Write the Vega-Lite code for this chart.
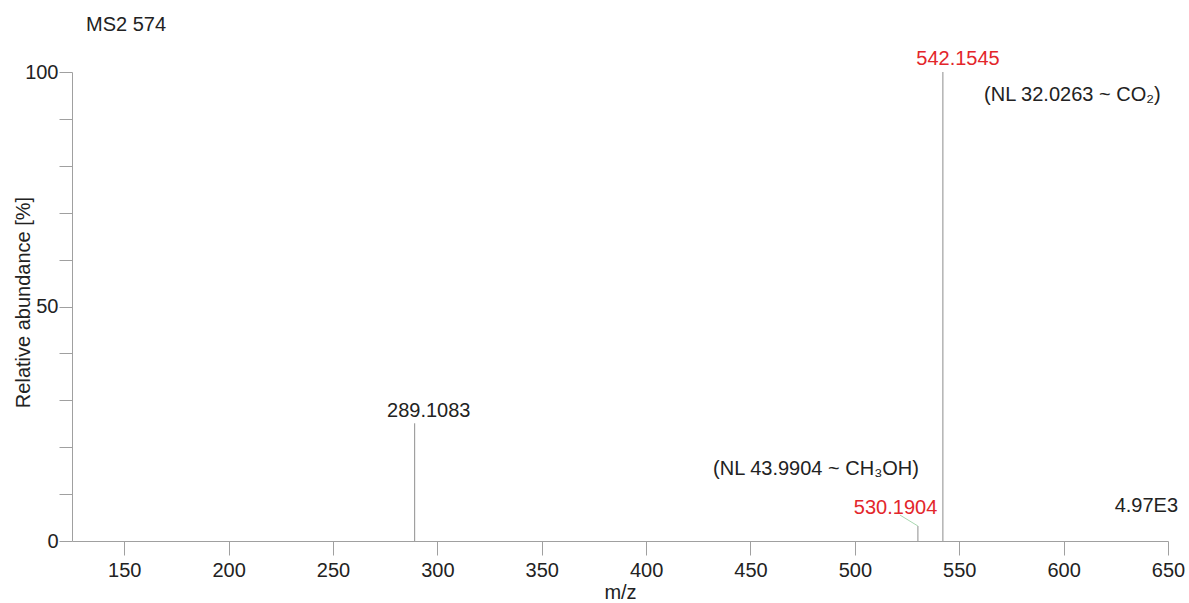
{
  "$schema": "https://vega.github.io/schema/vega-lite/v6.json",
  "autosize": "none",
  "width": 1096,
  "height": 469,
  "padding": {"left": 72, "top": 72, "right": 21, "bottom": 62},
  "background": "white",
  "config": {
    "font": "Liberation Sans",
    "view": {"stroke": null},
    "axis": {
      "grid": false,
      "domainColor": "#a0a0a0",
      "tickColor": "#a0a0a0",
      "labelFont": "Liberation Sans",
      "titleFont": "Liberation Sans",
      "labelFontSize": 20,
      "titleFontSize": 20,
      "labelColor": "#222222",
      "titleColor": "#222222",
      "titleFontWeight": "normal"
    }
  },
  "datasets": {
    "peaks": [
      {"mz": 289.1083, "abundance": 25.1},
      {"mz": 530.1904, "abundance": 3.2},
      {"mz": 542.1545, "abundance": 100}
    ],
    "peakLabels": [
      {"x": 549.4, "y": 101.5, "label": "542.1545", "role": "fragment"},
      {"x": 295.9, "y": 26.4, "label": "289.1083", "role": "peak"},
      {"x": 519.5, "y": 5.76, "label": "530.1904", "role": "fragment"},
      {"x": 481.4, "y": 14.1, "label": "(NL 43.9904 ~ CH₃OH)", "role": "peak"}
    ],
    "leftNotes": [
      {"x": 561.9, "y": 93.9, "label": "(NL 32.0263 ~ CO₂)"},
      {"x": 131.7, "y": 108.8, "label": "MS2 574"}
    ],
    "rightNotes": [
      {"x": 654.8, "y": 6.2, "label": "4.97E3"}
    ],
    "connectors": [
      {"x": 521.6, "y": 5.54, "x2": 530.19, "y2": 3.2}
    ]
  },
  "layer": [
    {
      "data": {"name": "peaks"},
      "mark": {"type": "rule", "color": "#a0a0a0", "strokeWidth": 1.2},
      "encoding": {
        "x": {
          "field": "mz",
          "type": "quantitative",
          "scale": {"domain": [125, 650], "nice": false, "zero": false},
          "axis": {
            "title": "m/z",
            "values": [150, 200, 250, 300, 350, 400, 450, 500, 550, 600, 650],
            "tickSize": 14,
            "labelPadding": 5,
            "titleX": 548,
            "titleY": 57,
            "titleBaseline": "alphabetic",
            "titleAlign": "center",
            "labelFlush": false,
            "labelOverlap": false
          }
        },
        "y": {
          "field": "abundance",
          "type": "quantitative",
          "scale": {"domain": [0, 100], "nice": false},
          "axis": {
            "title": "Relative abundance [%]",
            "values": [0, 10, 20, 30, 40, 50, 60, 70, 80, 90, 100],
            "labelExpr": "datum.value % 50 == 0 ? datum.label : ''",
            "tickSize": 13,
            "labelPadding": 1,
            "titleX": -43,
            "titleY": 230,
            "titleAngle": -90,
            "titleBaseline": "alphabetic",
            "titleAlign": "center",
            "labelFlush": false,
            "labelOverlap": false
          }
        },
        "y2": {"datum": 0}
      }
    },
    {
      "data": {"name": "connectors"},
      "mark": {"type": "rule", "color": "#a8d8b0", "strokeWidth": 1},
      "encoding": {
        "x": {"field": "x", "type": "quantitative"},
        "y": {"field": "y", "type": "quantitative"},
        "x2": {"field": "x2"},
        "y2": {"field": "y2"}
      }
    },
    {
      "data": {"name": "peakLabels"},
      "mark": {"type": "text", "align": "center", "baseline": "alphabetic", "fontSize": 20},
      "encoding": {
        "x": {"field": "x", "type": "quantitative"},
        "y": {"field": "y", "type": "quantitative"},
        "text": {"field": "label"},
        "color": {
          "field": "role",
          "type": "nominal",
          "scale": {"domain": ["peak", "fragment"], "range": ["#222222", "#e3262b"]},
          "legend": null
        }
      }
    },
    {
      "data": {"name": "leftNotes"},
      "mark": {"type": "text", "align": "left", "baseline": "alphabetic", "fontSize": 20, "color": "#222222"},
      "encoding": {
        "x": {"field": "x", "type": "quantitative"},
        "y": {"field": "y", "type": "quantitative"},
        "text": {"field": "label"}
      }
    },
    {
      "data": {"name": "rightNotes"},
      "mark": {"type": "text", "align": "right", "baseline": "alphabetic", "fontSize": 20, "color": "#222222"},
      "encoding": {
        "x": {"field": "x", "type": "quantitative"},
        "y": {"field": "y", "type": "quantitative"},
        "text": {"field": "label"}
      }
    }
  ]
}
